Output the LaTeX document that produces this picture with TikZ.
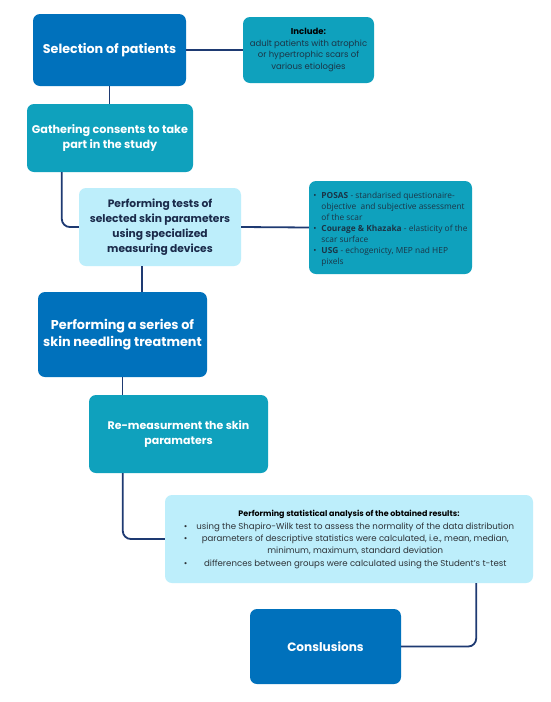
\documentclass[tikz,border=0pt]{standalone}
\usepackage{fontspec}
\setmainfont{Poppins}
\newfontfamily\osans{Open Sans}
\usepackage{array}
\definecolor{dblue}{HTML}{0071BC}
\definecolor{tealbox}{HTML}{0FA1BD}
\definecolor{lcyan}{HTML}{BDEEFB}
\definecolor{linenavy}{HTML}{1E3A72}
\definecolor{navytext}{HTML}{1B2B4B}
\definecolor{darktext}{HTML}{1B3547}
\definecolor{graytext}{HTML}{2E3338}
\begin{document}
\begin{tikzpicture}[x=1pt,y=-1pt,
  box/.style={rectangle, rounded corners=7pt, inner sep=0pt, align=center},
  dbox/.style={box, fill=dblue, text=white},
  tbox/.style={box, fill=tealbox, text=white},
  lbox/.style={box, fill=lcyan, text=navytext},
  conn/.style={draw=linenavy, line width=1.8pt, rounded corners=8pt},
  smalltxt/.style={font=\fontsize{8.5}{11.9}\selectfont}
]
\useasboundingbox[fill=white] (0,0) rectangle (550,702);

\node[dbox, font=\fontsize{12.7}{15}\selectfont\bfseries, minimum width=153pt, minimum height=72pt] (sel) at (109.5,50) {Selection of patients};
\node[tbox, smalltxt, text=darktext, minimum width=131pt, minimum height=66pt] (inc) at (308.5,50)
  {{\bfseries\color{black}Include:}\\adult patients with atrophic\\or hypertrophic scars of\\various etiologies};
\node[tbox, font=\fontsize{11.2}{15.5}\selectfont\bfseries, minimum width=166pt, minimum height=68pt] (cons) at (110,138)
  {Gathering consents to take\\part in the study};
\node[lbox, font=\fontsize{10.7}{15}\selectfont\bfseries, minimum width=162pt, minimum height=78pt] (tests) at (160,227)
  {Performing tests of\\selected skin parameters\\using specialized\\measuring devices};
\node[tbox, align=left, text=darktext, font=\osans\fontsize{8.35}{11}\selectfont, minimum width=163pt, minimum height=93pt] (posas) at (390.5,227.5)
  {\rule{0pt}{10pt}\makebox[8pt][l]{•}\textbf{POSAS} - standarised questionaire-\\
   \hspace*{8pt}objective\ \ and subjective assessment\\
   \hspace*{8pt}of the scar\\
   \makebox[8pt][l]{•}\textbf{Courage \& Khazaka} - elasticity of the\\
   \hspace*{8pt}scar surface\\
   \makebox[8pt][l]{•}\textbf{USG} - echogenicty, MEP nad HEP\\
   \hspace*{8pt}pixels};
\node[dbox, font=\fontsize{12.8}{17}\selectfont\bfseries, minimum width=169pt, minimum height=85pt] (needl) at (122.5,334.5)
  {Performing a series of\\skin needling treatment};
\node[tbox, font=\fontsize{11}{15.7}\selectfont\bfseries, minimum width=179pt, minimum height=78pt] (remeas) at (178.5,434)
  {Re-measurment the skin\\paramaters};
\node[lbox, text=graytext, font=\fontsize{8.6}{12.4}\selectfont, minimum width=368pt, minimum height=88pt] (stats) at (349,539)
  {\begin{tabular}{@{}l@{\hspace{9pt}}c@{}}
   \multicolumn{2}{c}{\fontsize{7.95}{12.4}\selectfont\bfseries\color{black}Performing statistical analysis of the obtained results:}\\
   • & using the Shapiro-Wilk test to assess the normality of the data distribution\\
   • & parameters of descriptive statistics were calculated, i.e., mean, median,\\
     & minimum, maximum, standard deviation\\
   • & differences between groups were calculated using the Student’s t-test
   \end{tabular}};
\node[dbox, font=\fontsize{12.1}{15}\selectfont\bfseries, minimum width=151pt, minimum height=75pt] (concl) at (325.5,646.5) {Conslusions};

\draw[conn] (sel.east) -- (inc.west);
\draw[conn] (sel.south) -- (sel.south |- cons.north);
\draw[conn] ([xshift=35pt]cons.south west) |- (tests.west);
\draw[conn] (tests.east) -- (posas.west);
\draw[conn] ([xshift=63pt]tests.south west) -- ([xshift=63pt]tests.south west |- needl.north);
\draw[conn] (needl.south) -- (needl.south |- remeas.north);
\draw[conn] ([xshift=34pt]remeas.south west) |- (stats.west);
\draw[conn] ([xshift=-57pt]stats.south east) |- (concl.east);
\end{tikzpicture}
\end{document}
